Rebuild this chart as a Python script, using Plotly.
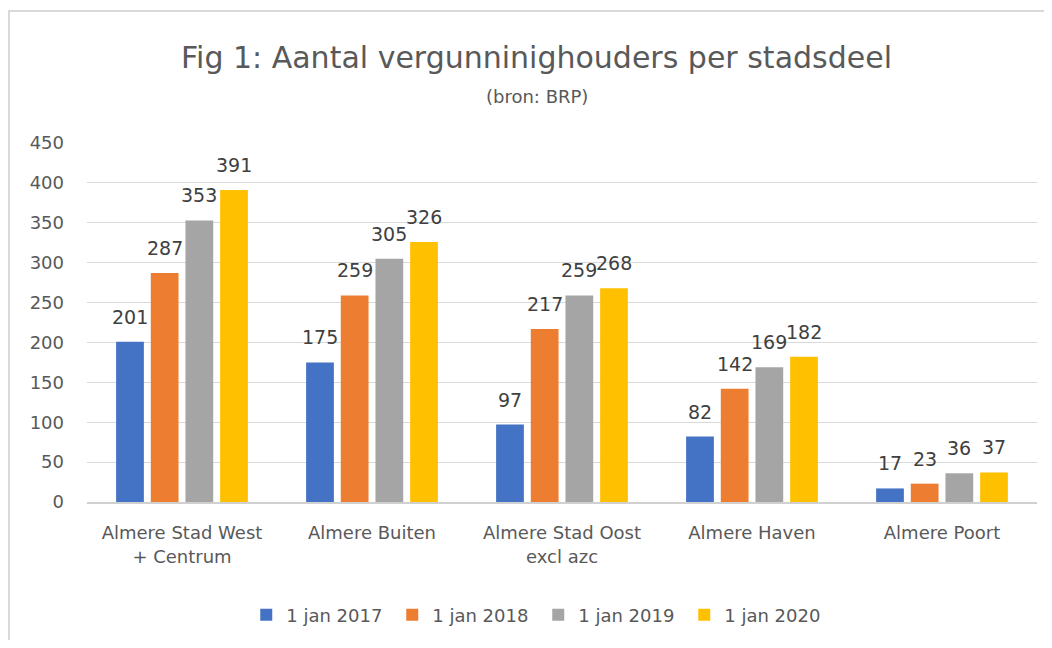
import plotly.graph_objects as go

categories = ["Almere Stad West<br>+ Centrum", "Almere Buiten", "Almere Stad Oost<br>excl azc", "Almere Haven", "Almere Poort"]
series_names = ["1 jan 2017", "1 jan 2018", "1 jan 2019", "1 jan 2020"]
v2017 = [201, 175, 97, 82, 17]
v2018 = [287, 259, 217, 142, 23]
v2019 = [353, 305, 259, 169, 36]
v2020 = [391, 326, 268, 182, 37]
colors = ["#4472C4", "#ED7D31", "#A5A5A5", "#FFC000"]
y_ticks = [0, 50, 100, 150, 200, 250, 300, 350, 400, 450]

FONT = "DejaVu Sans"
TXT = "#595959"

W, H = 1036, 632
ML, MR, MT, MB = 79, 7, 135, 138
BARGAP = 0.27
plot_w = W - ML - MR
plot_h = H - MT - MB
slot = (1 - BARGAP) * plot_w / len(categories) / len(series_names)

fig = go.Figure()
all_series = [v2017, v2018, v2019, v2020]
annotations = []
for i, (name, vals, col) in enumerate(zip(series_names, all_series, colors)):
    fig.add_trace(go.Bar(
        x=categories, y=vals, name=name, marker_color=col,
        marker_line_width=0,
    ))
    for c, v in zip(categories, vals):
        annotations.append(dict(
            x=c, y=v, xref="x", yref="y", text=str(v), showarrow=False,
            xshift=(i - (len(series_names) - 1) / 2) * slot, yshift=25,
            xanchor="center", yanchor="middle",
            font=dict(family=FONT, size=19, color="#404040"),
        ))

annotations += [
    dict(text="Fig 1: Aantal vergunninighouders per stadsdeel", xref="paper", yref="paper",
         x=0.473, y=1 + 86 / plot_h, xanchor="center", yanchor="middle", showarrow=False,
         font=dict(family=FONT, size=30, color=TXT)),
    dict(text="(bron: BRP)", xref="paper", yref="paper",
         x=0.474, y=1 + 46 / plot_h, xanchor="center", yanchor="middle", showarrow=False,
         font=dict(family=FONT, size=18, color=TXT)),
]

fig.update_layout(
    width=W, height=H,
    margin=dict(l=ML, r=MR, t=MT, b=MB, autoexpand=False),
    paper_bgcolor="white", plot_bgcolor="white",
    barmode="group", bargap=BARGAP, bargroupgap=0.2,
    font=dict(family=FONT, color=TXT),
    showlegend=True,
    legend=dict(orientation="h", x=0.475, xanchor="center", y=-0.315, yanchor="middle",
                font=dict(family=FONT, size=18, color=TXT), itemwidth=30,
                entrywidth=101, entrywidthmode="pixels",
                traceorder="normal"),
    yaxis=dict(range=[0, 450], tickvals=y_ticks, showgrid=True, gridcolor="#D9D9D9",
               gridwidth=1.3, zeroline=False, showline=False,
               tickfont=dict(family=FONT, size=18, color=TXT), ticklabelstandoff=22),
    xaxis=dict(showline=True, linecolor="#D0D0D0", linewidth=1.5,
               tickfont=dict(family=FONT, size=18, color=TXT), ticks="",
               ticklabelstandoff=14),
    annotations=annotations,
    shapes=[
        dict(type="rect", xref="paper", yref="paper", x0=(1 - ML) / plot_w, x1=1.2,
             y0=-0.6, y1=1 + (MT - 3) / plot_h, line=dict(color="#D9D9D9", width=2),
             fillcolor="rgba(0,0,0,0)", layer="below"),
    ],
)

fig.write_html("out.html")
